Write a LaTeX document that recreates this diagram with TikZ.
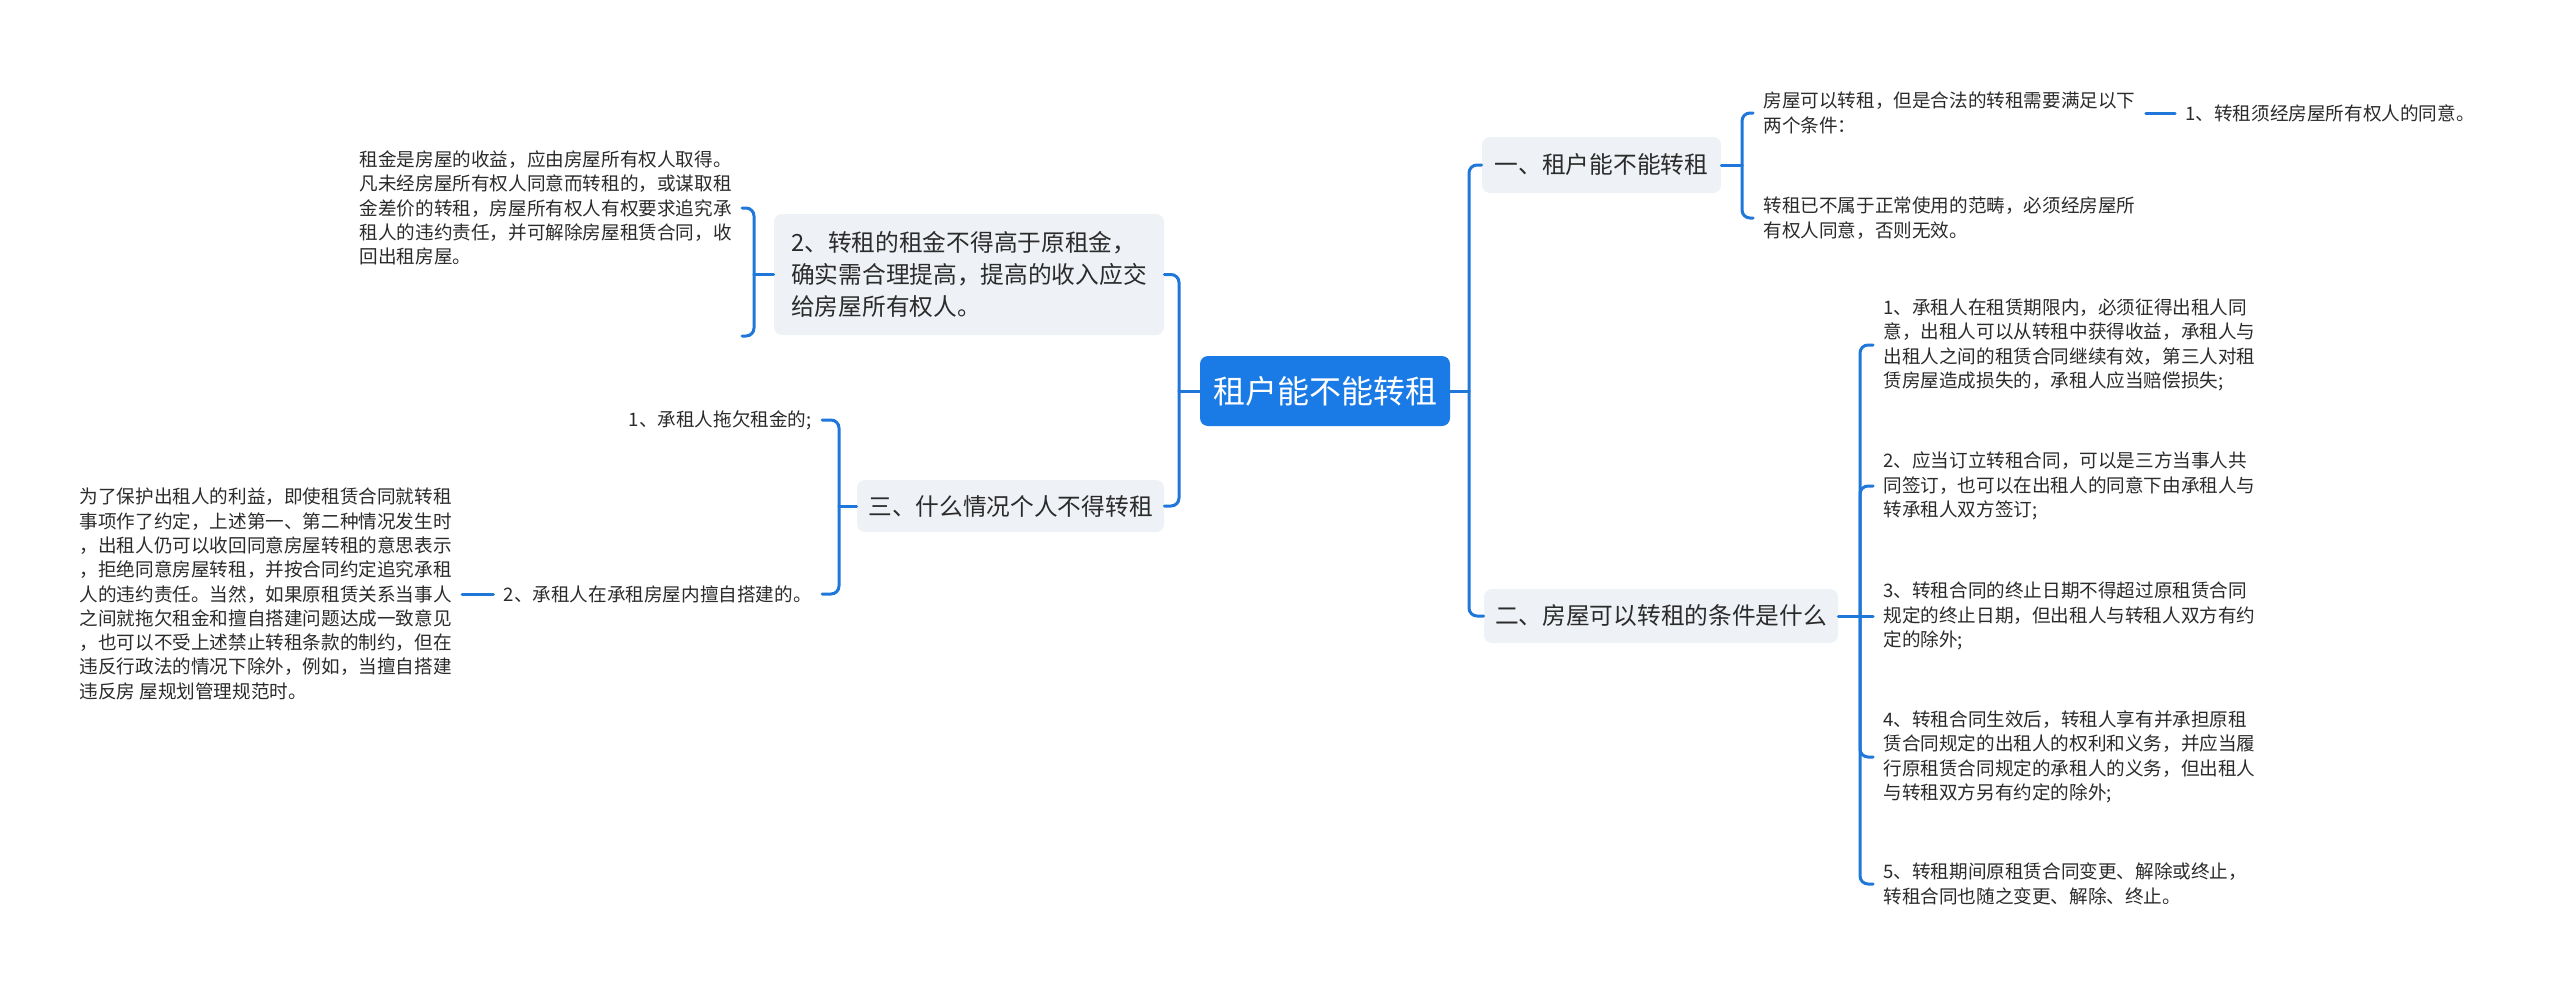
\documentclass[tikz,border=0pt]{standalone}
\usepackage{fontspec}
\setmainfont{Noto Sans CJK SC}
\definecolor{lineblue}{HTML}{1F77DA}
\definecolor{rootblue}{HTML}{1A7AE6}
\definecolor{topicbg}{HTML}{EEF1F5}
\definecolor{txt}{HTML}{2B2B2B}
\begin{document}
\begin{tikzpicture}[x=0.5pt,y=-0.5pt,
  conn/.style={draw=lineblue,line width=1.5pt,rounded corners=4pt,line cap=round},
  leaf/.style={font=\fontsize{9.3pt}{12.15pt}\selectfont,text=txt,align=left,inner xsep=5pt,inner ysep=2pt},
  topic/.style={fill=topicbg,rounded corners=4pt,font=\fontsize{11.85pt}{16pt}\selectfont,text=txt,inner sep=0pt,align=left},
  root/.style={fill=rootblue,rounded corners=4pt,font=\fontsize{16pt}{20pt}\selectfont,text=white,inner sep=0pt}]
\useasboundingbox (0,0) rectangle (2560,996);
\fill[white] (0,0) rectangle (2560,996);

% root
\node[root,minimum width=125pt,minimum height=35pt] (c) at (1325,391) {租户能不能转租};

% main topics
\node[topic,minimum width=119.5pt,minimum height=28pt] (b1) at (1601.5,165) {一、租户能不能转租};
\node[topic,minimum width=177pt,minimum height=27pt] (b2) at (1661,616) {二、房屋可以转租的条件是什么};
\node[topic,minimum width=195pt,minimum height=60.5pt] (l1) at (969,274.5) {2、转租的租金不得高于原租金，\\确实需合理提高，提高的收入应交\\给房屋所有权人。};
\node[topic,minimum width=153.5pt,minimum height=26pt] (l2) at (1010.5,506) {三、什么情况个人不得转租};

% junctions
\coordinate (jr) at (1469,391);
\coordinate (jl) at (1179,391);
\coordinate (jb1) at (1742,165);
\coordinate (jb2) at (1860,616);
\coordinate (jl1) at (754,274.5);
\coordinate (jl2) at (839,506);
\coordinate (le) at (742,336);

% leaves of b1
\node[leaf,anchor=west] (t11) at (1753,113) {房屋可以转租，但是合法的转租需要满足以下\\两个条件：};
\node[leaf,anchor=west] (t111) at (2175,113) {1、转租须经房屋所有权人的同意。};
\node[leaf,anchor=west] (t12) at (1753,218) {转租已不属于正常使用的范畴，必须经房屋所\\有权人同意，否则无效。};

% leaves of b2
\node[leaf,anchor=west] (t21) at (1873,345) {1、承租人在租赁期限内，必须征得出租人同\\意，出租人可以从转租中获得收益，承租人与\\出租人之间的租赁合同继续有效，第三人对租\\赁房屋造成损失的，承租人应当赔偿损失;};
\node[leaf,anchor=west] (t22) at (1873,486) {2、应当订立转租合同，可以是三方当事人共\\同签订，也可以在出租人的同意下由承租人与\\转承租人双方签订;};
\node[leaf,anchor=west] (t23) at (1873,616) {3、转租合同的终止日期不得超过原租赁合同\\规定的终止日期，但出租人与转租人双方有约\\定的除外;};
\node[leaf,anchor=west] (t24) at (1873,757) {4、转租合同生效后，转租人享有并承担原租\\赁合同规定的出租人的权利和义务，并应当履\\行原租赁合同规定的承租人的义务，但出租人\\与转租双方另有约定的除外;};
\node[leaf,anchor=west] (t25) at (1873,884) {5、转租期间原租赁合同变更、解除或终止，\\转租合同也随之变更、解除、终止。};

% leaves of l1
\node[leaf,anchor=east] (lt1) at (742,208) {租金是房屋的收益，应由房屋所有权人取得。\\凡未经房屋所有权人同意而转租的，或谋取租\\金差价的转租，房屋所有权人有权要求追究承\\租人的违约责任，并可解除房屋租赁合同，收\\回出租房屋。};

% leaves of l2
\node[leaf,anchor=east] (l21) at (822,420) {1、承租人拖欠租金的;};
\node[leaf,anchor=east] (l22) at (822,594) {2、承租人在承租房屋内擅自搭建的。};
\node[leaf,anchor=east] (lt2) at (462,594) {为了保护出租人的利益，即使租赁合同就转租\\事项作了约定，上述第一、第二种情况发生时\\，出租人仍可以收回同意房屋转租的意思表示\\，拒绝同意房屋转租，并按合同约定追究承租\\人的违约责任。当然，如果原租赁关系当事人\\之间就拖欠租金和擅自搭建问题达成一致意见\\，也可以不受上述禁止转租条款的制约，但在\\违反行政法的情况下除外，例如，当擅自搭建\\违反房 屋规划管理规范时。};

% connectors: root
\draw[conn] (c.east) -- (jr);
\draw[conn] (jr) |- (b1.west);
\draw[conn] (jr) |- (b2.west);
\draw[conn] (c.west) -- (jl);
\draw[conn] (jl) |- (l1.east);
\draw[conn] (jl) |- (l2.east);

% b1
\draw[conn] (b1.east) -- (jb1);
\draw[conn] (jb1) |- (t11.west);
\draw[conn] (jb1) |- (t12.west);
\draw[conn] (t11.east) -- (t111.west);

% b2
\draw[conn] (b2.east) -- (t23.west);
\draw[conn] (jb2) |- (t21.west);
\draw[conn] (jb2) |- (t22.west);
\draw[conn] (jb2) |- (t24.west);
\draw[conn] (jb2) |- (t25.west);

% l1
\draw[conn] (l1.west) -- (jl1);
\draw[conn] (jl1) |- (lt1.east);
\draw[conn] (jl1) |- (le);

% l2
\draw[conn] (l2.west) -- (jl2);
\draw[conn] (jl2) |- (l21.east);
\draw[conn] (jl2) |- (l22.east);
\draw[conn] (lt2.east) -- (l22.west);
\end{tikzpicture}
\end{document}
